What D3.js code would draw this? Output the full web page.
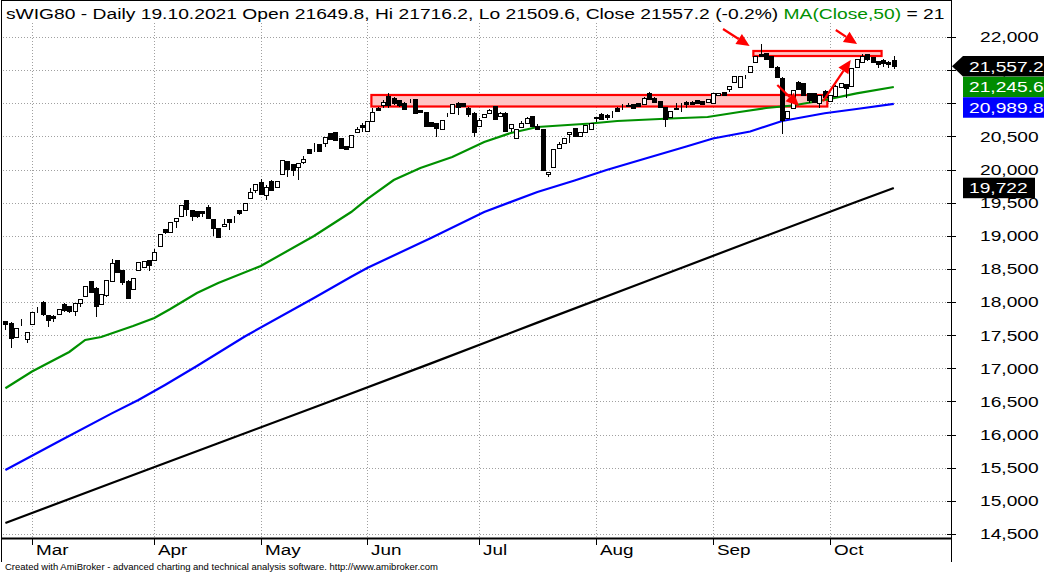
<!DOCTYPE html>
<html><head><meta charset="utf-8">
<script src="https://cdn.jsdelivr.net/npm/d3@7"></script>
<style>body{margin:0;background:#fff}svg{display:block}</style>
</head><body>
<svg id="c" width="1044" height="572"></svg>
<script>
// ---------- data ----------
const symbol = "sWIG80";
const holidays = ["2021-04-02","2021-04-05","2021-05-03","2021-06-03"];
const firstDay = "2021-02-22", lastDay = "2021-10-19";
const open = [17714,17680,17478,17674,17444,17665,17926,17996,17805,17785,
17825,17971,17941,17865,17991,18097,18318,18217,17976,18107,
18322,18635,18484,18323,18193,18480,18535,18635,18630,18846,
19098,19062,19219,19304,19536,19385,19370,19370,19435,19249,
19113,19143,19249,19276,19385,19395,19576,19698,19807,19621,
19822,19732,19928,20124,20083,20043,20118,20305,20382,20385,
20400,20547,20562,20471,20355,20345,20571,20677,20586,20732,
20929,20970,21114,21084,21049,21009,21041,21060,20898,20869,
20717,20698,20612,20825,20849,21009,21000,20933,20858,20657,
20788,20858,20959,20813,20858,20622,20471,20637,20698,20808,
20662,20607,19928,20034,20320,20405,20536,20622,20511,20572,
20607,20773,20838,20823,20873,20929,20959,20969,20984,21000,
20984,21150,21084,21034,20939,20797,20924,20974,21024,21024,
21045,21034,21024,21000,21120,21166,21211,21325,21241,21418,
21467,21627,21748,21759,21713,21552,21386,20773,20933,21325,
21301,21150,21150,21000,21185,21039,21114,21241,21286,21265,
21543,21627,21739,21698,21638,21657,21627,21649.8];
const high = [17720,17695,17610,17740,17550,17850,17928,18016,17810,17805,
17895,17986,17945,17985,18045,18248,18322,18220,18120,18333,
18645,18640,18490,18328,18368,18605,18620,18640,18801,19028,
19103,19208,19268,19465,19540,19390,19375,19375,19465,19253,
19117,19249,19253,19299,19390,19495,19717,19782,19862,19762,
19842,19826,20148,20128,20087,20098,20209,20310,20405,20390,
20495,20551,20566,20475,20359,20525,20647,20707,20736,20924,
20940,21050,21160,21088,21053,21013,21065,21064,20902,20873,
20721,20702,20752,20850,20988,21013,21004,20937,20862,20783,
20842,20907,20963,20862,20862,20687,20611,20730,20787,20812,
20687,20611,19967,20309,20420,20475,20571,20626,20571,20676,
20702,20800,20850,20843,20880,20940,20990,21010,20995,21005,
21090,21165,21090,21040,20945,20890,21000,21000,21030,21030,
21050,21040,21065,21155,21155,21170,21265,21410,21415,21420,
21567,21718,21890,21765,21718,21555,21390,20890,21205,21330,
21305,21155,21155,21130,21200,21130,21270,21305,21290,21535,
21675,21740,21745,21705,21645,21665,21640,21716.2];
const low = [17578,17312,17470,17640,17387,17660,17840,17785,17628,17704,
17820,17855,17840,17795,17930,18090,18142,17775,17970,18081,
18318,18443,18258,18046,18188,18475,18510,18474,18625,18831,
19022,19058,19113,19300,19303,19228,19264,19289,19260,19002,
18982,19140,19088,19188,19314,19390,19572,19652,19616,19546,
19683,19728,19924,19883,19902,19842,20083,20250,20270,20280,
20345,20452,20442,20316,20290,20340,20567,20562,20580,20728,
20890,20924,20924,20974,20940,20905,21009,20833,20860,20653,
20637,20496,20608,20800,20845,20823,20955,20797,20496,20653,
20784,20854,20759,20809,20583,20572,20467,20633,20694,20658,
20603,19989,19892,20030,20316,20401,20405,20502,20507,20568,
20603,20722,20740,20748,20782,20880,20900,20945,20925,20950,
20975,21050,21015,20940,20646,20790,20915,20864,20924,20980,
20990,20975,21015,20995,21115,21115,21175,21301,21235,21366,
21460,21620,21700,21660,21545,21395,20536,20765,20925,21205,
21115,21009,21015,20933,21090,21030,21105,21235,21075,21260,
21535,21620,21640,21603,21528,21552,21537,21509.6];
const close = [17674,17454,17604,17670,17544,17846,17922,17820,17734,17755,
17891,17885,17870,17981,18041,18243,18157,17945,18117,18329,
18585,18459,18308,18066,18363,18600,18615,18564,18756,19023,
19062,19204,19264,19460,19404,19294,19294,19340,19264,19123,
18987,19178,19213,19272,19350,19491,19657,19777,19636,19732,
19687,19822,20144,20003,19988,20094,20159,20254,20378,20284,
20491,20456,20446,20320,20305,20521,20617,20647,20732,20868,
20898,21015,20974,21000,20974,20909,21037,20849,20864,20657,
20662,20632,20748,20821,20984,20949,20959,20833,20571,20748,
20838,20903,20763,20858,20587,20683,20607,20698,20783,20662,
20607,19993,19963,20305,20385,20471,20567,20506,20567,20672,
20698,20797,20758,20793,20870,20888,20955,20965,20933,20959,
21084,21064,21024,20948,20763,20883,20920,20970,20994,20989,
21000,20984,21060,21150,21150,21120,21261,21407,21411,21414,
21562,21713,21718,21668,21552,21401,20748,20883,21200,21215,
21125,21049,21024,21125,21099,21125,21265,21301,21226,21528,
21668,21713,21668,21618,21588,21603,21600,21557.2];

// moving averages (bar index -> value)
const ma50Idx = [0,5,12,15,18,24,28,31,36,40,48,58,65,68,73,78,84,90,95,100,110,115,125,132,138,143,148,154,160,167];
const ma50Val = [16699,16952,17247,17428,17473,17639,17760,17896,18137,18288,18544,18997,19359,19555,19842,20023,20189,20416,20551,20642,20695,20732,20770,20793,20868,20929,20966,21049,21150,21245.6];
const ma100Idx = [0,10,20,25,30,36,45,58,65,68,80,90,100,107,113,120,128,133,140,146,154,160,167];
const ma100Val = [15466,15895,16320,16522,16749,17035,17481,18061,18383,18514,18967,19359,19661,19835,19993,20159,20348,20468,20574,20732,20849,20913,20989.8];
const ma200Idx = [0,20,40,60,80,100,120,140,160,167];
const ma200Val = [14666,15270,15870,16470,17075,17690,18300,18910,19515,19722];

const yTicks = [14500,15000,15500,16000,16500,17000,17500,18000,18500,19000,19500,20000,20500,21000,21500,22000];
const monthNames = ["Mar","Apr","May","Jun","Jul","Aug","Sep","Oct"];

// annotations (bar index, price)
const zones = [[68.8,154.5,21125,20951],[140.6,164.7,21789,21713]];
const arrows = [[134.9,22120,139.9,21864],[156.1,22105,160.1,21894],[145.1,21276,149.2,20959],[153.7,21034,158.9,21653]];

// ---------- build ----------
const hol = new Set(holidays);
const fmtD = d3.timeFormat("%Y-%m-%d");
const parse = d3.timeParse("%Y-%m-%d");
const dates = d3.timeDay.range(parse(firstDay), d3.timeDay.offset(parse(lastDay),1))
  .filter(d => d.getDay()>0 && d.getDay()<6 && !hol.has(fmtD(d)));
const n = dates.length;

const svg = d3.select("#c");
const FONT = '"Liberation Sans", Arial, Helvetica, sans-serif';
const x = d3.scaleLinear().domain([0, n-1]).range([5.4, 893.8]);
const y = d3.scaleLinear().domain([14500, 22000]).range([534, 37]);

svg.append("rect").attr("width",1044).attr("height",572).attr("fill","#fff");

function stext(g, px, py, str, size, sx, fill, anchor){
  return g.append("text").attr("transform",`translate(${px},${py}) scale(${sx},1)`)
    .attr("font-family",FONT).attr("font-size",size).attr("fill",fill)
    .attr("text-anchor",anchor||"start").text(str);
}

// gridlines
const grid = svg.append("g").attr("stroke","#a0a0a0").attr("stroke-width",1).attr("stroke-dasharray","1,2");
yTicks.forEach(v=>{
  const yy = Math.round(y(v))+0.5;
  grid.append("line").attr("x1",3).attr("x2",948).attr("y1",yy).attr("y2",yy);
});
const monthStarts = [];
for(let i=1;i<n;i++){ if(dates[i].getMonth()!==dates[i-1].getMonth()) monthStarts.push(i); }
monthStarts.forEach(i=>{
  const xx = Math.round(x(i))+0.5;
  grid.append("line").attr("x1",xx).attr("x2",xx).attr("y1",23).attr("y2",538);
});

// zones
zones.forEach(z=>{
  svg.append("rect").attr("x",x(z[0])).attr("y",y(z[2])).attr("width",x(z[1])-x(z[0])).attr("height",y(z[3])-y(z[2]))
    .attr("fill","#ffc4c4").attr("stroke","#ff0000").attr("stroke-width",2.2);
});

// MA lines
const line = d3.line().x(d=>x(d[0])).y(d=>y(d[1]));
[[ma200Idx,ma200Val,"#000000"],[ma100Idx,ma100Val,"#0000ff"],[ma50Idx,ma50Val,"#009000"]].forEach(([ix,vv,c])=>{
  svg.append("path").attr("d",line(ix.map((k,j)=>[k,vv[j]]))).attr("fill","none").attr("stroke",c).attr("stroke-width",2.2);
});

// candles
const cg = svg.append("g");
for(let i=0;i<n;i++){
  const c = Math.round(x(i));
  cg.append("line").attr("x1",c+0.5).attr("x2",c+0.5).attr("y1",Math.round(y(high[i]))).attr("y2",Math.round(y(low[i])))
    .attr("stroke","#000").attr("stroke-width",1);
  const top = Math.round(y(Math.max(open[i],close[i])));
  const bot = Math.round(y(Math.min(open[i],close[i])));
  const up = close[i] >= open[i];
  cg.append("rect").attr("x",c-1.5).attr("y",top+0.5).attr("width",4).attr("height",Math.max(0,bot-top))
    .attr("fill", up ? "#fff" : "#000").attr("stroke","#000").attr("stroke-width",1);
}

// arrows
arrows.forEach(a=>{
  const x1=x(a[0]), y1=y(a[1]), x2=x(a[2]), y2=y(a[3]);
  const ang = Math.atan2(y2-y1,x2-x1), L=13, W=6;
  const bx = x2-L*Math.cos(ang), by = y2-L*Math.sin(ang);
  svg.append("line").attr("x1",x1).attr("y1",y1).attr("x2",bx).attr("y2",by).attr("stroke","#ff0000").attr("stroke-width",2.2);
  const pts = [[x2,y2],[bx+W*Math.sin(ang),by-W*Math.cos(ang)],[bx-W*Math.sin(ang),by+W*Math.cos(ang)]];
  svg.append("polygon").attr("points",pts.map(p=>p.join(",")).join(" ")).attr("fill","#ff0000");
});

// frame and axes
const ax = svg.append("g").attr("stroke","#000").attr("stroke-width",1);
ax.append("line").attr("x1",1).attr("x2",952).attr("y1",0.5).attr("y2",0.5);
ax.append("line").attr("x1",1.5).attr("x2",1.5).attr("y1",0).attr("y2",562);
ax.append("line").attr("x1",951.5).attr("x2",951.5).attr("y1",0).attr("y2",562);
ax.append("line").attr("x1",1).attr("x2",952).attr("y1",538.5).attr("y2",538.5).attr("stroke-width",2);
yTicks.forEach(v=>{
  const yy = Math.round(y(v))+0.5;
  ax.append("line").attr("x1",947).attr("x2",956).attr("y1",yy).attr("y2",yy);
});
monthStarts.forEach(i=>{
  const xx = Math.round(x(i))+0.5;
  ax.append("line").attr("x1",xx).attr("x2",xx).attr("y1",538).attr("y2",545);
});

// tick labels
const lg = svg.append("g");
const fmtTick = d3.format(",");
yTicks.forEach(v=>{
  stext(lg, 980, y(v)+5.4, fmtTick(v), 15, 1.28, "#000");
});
monthStarts.forEach((i,k)=>{
  stext(lg, Math.round(x(i))+4, 555, monthNames[k], 15, 1.26, "#000");
});

// last value labels (drawn above tick labels)
const last = n-1;
const lastLabels = [
  {v: close[last], bg:"#000", arrow:true},
  {v: ma50Val[ma50Val.length-1], bg:"#008c00"},
  {v: ma100Val[ma100Val.length-1], bg:"#0000ff"},
  {v: ma200Val[ma200Val.length-1], bg:"#000", short:true}
];
const vg = svg.append("g");
let prevBottom = -1e9;
const H = 20.5;
lastLabels.forEach(L=>{
  let t = y(L.v) - H/2;
  if(t < prevBottom) t = prevBottom;
  prevBottom = t + H;
  const txt = d3.format(",")(L.v);
  const w = L.short ? 72 : 82;
  if(L.arrow){
    vg.append("polygon").attr("points",`952,${t+H/2} 963,${t} 1044,${t} 1044,${t+H} 963,${t+H}`).attr("fill",L.bg);
  } else {
    vg.append("rect").attr("x",963).attr("y",t).attr("width",w).attr("height",H).attr("fill",L.bg);
  }
  stext(vg, 969, t+H/2+5.4, txt, 15, 1.28, "#fff");
});

// title
svg.append("clipPath").attr("id","tclip").append("rect").attr("x",0).attr("y",0).attr("width",945).attr("height",30);
const prevClose = close[last-1];
const pct = (close[last]/prevClose-1)*100;
const f1 = d3.format(".1f");
const title = svg.append("g").attr("clip-path","url(#tclip)")
  .append("text").attr("transform","translate(6,18.5) scale(1.25,1)")
  .attr("font-family",FONT).attr("font-size",15.4).attr("fill","#000");
const pctStr = f1(pct).replace("\u2212","-");
title.append("tspan").text(`${symbol} - Daily ${d3.timeFormat("%d.%m.%Y")(dates[last])} Open ${f1(open[last])}, Hi ${f1(high[last])}, Lo ${f1(low[last])}, Close ${f1(close[last])} (${pctStr}%) `);
title.append("tspan").attr("fill","#009000").text("MA(Close,50)");
title.append("tspan").text(` = ${d3.format(",.2f")(ma50Val[ma50Val.length-1])}`);

// footer
svg.append("text").attr("x",5).attr("y",569.5).attr("font-family",FONT).attr("font-size",9.5)
  .attr("textLength",433).attr("lengthAdjust","spacingAndGlyphs").attr("fill","#000")
  .text("Created with AmiBroker - advanced charting and technical analysis software. http://www.amibroker.com");
</script>
</body></html>
